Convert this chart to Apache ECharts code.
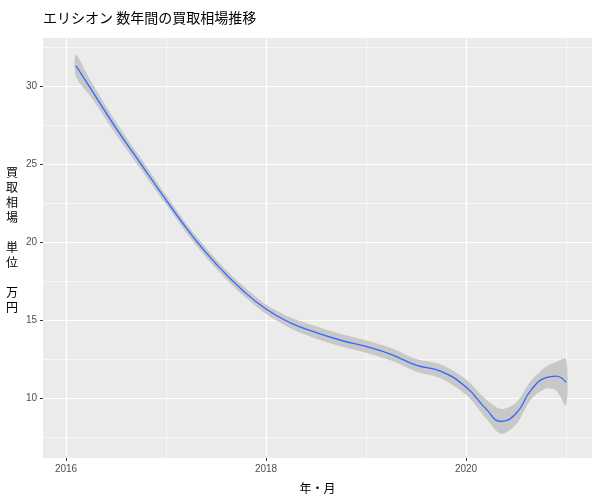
<!DOCTYPE html>
<html><head><meta charset="utf-8">
<script src="https://cdn.jsdelivr.net/npm/echarts@6/dist/echarts.min.js"></script>
<style>html,body{margin:0;padding:0;background:#fff}#c{width:600px;height:500px}</style>
</head><body><div id="c"></div>
<script>
const years = [2016.1,2016.25,2016.5,2016.75,2017.0,2017.25,2017.5,2017.75,2018.0,2018.25,2018.5,2018.75,2019.0,2019.25,2019.5,2019.75,2020.0,2020.2,2020.35,2020.5,2020.65,2020.8,2020.9,2021.0];
const fit   = [31.3,29.8,27.3,25.0,22.7,20.5,18.6,17.0,15.7,14.8,14.2,13.7,13.3,12.8,12.1,11.7,10.7,9.3,8.5,9.0,10.5,11.3,11.4,11.0];
const halfWidth = [0.7,0.5,0.4,0.35,0.3,0.3,0.3,0.3,0.3,0.35,0.4,0.4,0.4,0.4,0.4,0.45,0.5,0.6,0.8,0.7,0.6,0.7,0.9,1.5];
const xTicks = [2016,2018,2020];
const yTicks = [10,15,20,25,30];
const xMinor = [2017,2019,2021];
const yMinor = [7.5,12.5,17.5,22.5,27.5,32.5];

const line = years.map((x,i)=>[x, fit[i]]);
const ml = (arr, key, w) => arr.map(v=>({[key]:v, lineStyle:{color:'#fff',width:w,type:'solid'}}));

const chart = echarts.init(document.getElementById('c'));
chart.setOption({
  animation:false,
  title:{text:'エリシオン 数年間の買取相場推移',left:38,top:6,textStyle:{fontSize:14,fontWeight:'normal',color:'#000',fontFamily:'Noto Sans CJK JP'}},
  grid:{left:43,right:8,top:38,bottom:42,show:true,backgroundColor:'#EBEBEB',borderWidth:0},
  xAxis:{type:'value',min:2015.77,max:2021.26,name:'年・月',nameLocation:'middle',nameGap:24,
    nameTextStyle:{fontSize:12,color:'#000',fontFamily:'Noto Sans CJK JP'},
    splitLine:{show:false},axisLine:{show:false},
    axisTick:{show:true,customValues:xTicks,length:3,lineStyle:{color:'#333'}},
    axisLabel:{customValues:xTicks,formatter:v=>String(v),color:'#4d4d4d',fontSize:10,margin:6}},
  yAxis:{type:'value',min:6.15,max:33.08,splitLine:{show:false},axisLine:{show:false},
    axisTick:{show:true,customValues:yTicks,length:3,lineStyle:{color:'#333'}},
    axisLabel:{customValues:yTicks,color:'#4d4d4d',fontSize:10,margin:6}},
  graphic:[{type:'text',left:6,top:165,style:{text:'買\n取\n相\n場\n\n単\n位\n\n万\n円',fontSize:12,lineHeight:15,fill:'#000',fontFamily:'Noto Sans CJK JP'}}],
  series:[
    {type:'line',data:[],silent:true,z:0,markLine:{silent:true,symbol:'none',label:{show:false},z:0,
      data:[...ml(xMinor,'xAxis',0.6),...ml(yMinor,'yAxis',0.6),...ml(xTicks,'xAxis',1.2),...ml(yTicks,'yAxis',1.2)]}},
    {type:'custom',z:1,silent:true,data:[[years[0],fit[0]]],
      renderItem:(params,api)=>{
        const up = years.map((x,i)=>api.coord([x,fit[i]+halfWidth[i]]));
        const lo = years.map((x,i)=>api.coord([x,fit[i]-halfWidth[i]])).reverse();
        return {type:'polygon',shape:{points:up.concat(lo),smooth:0.3},style:{fill:'#C8C8C8'}};
      }},
    {type:'line',z:2,data:line,symbol:'none',smooth:true,lineStyle:{color:'#3366FF',width:1.3}}
  ]
});
</script></body></html>
